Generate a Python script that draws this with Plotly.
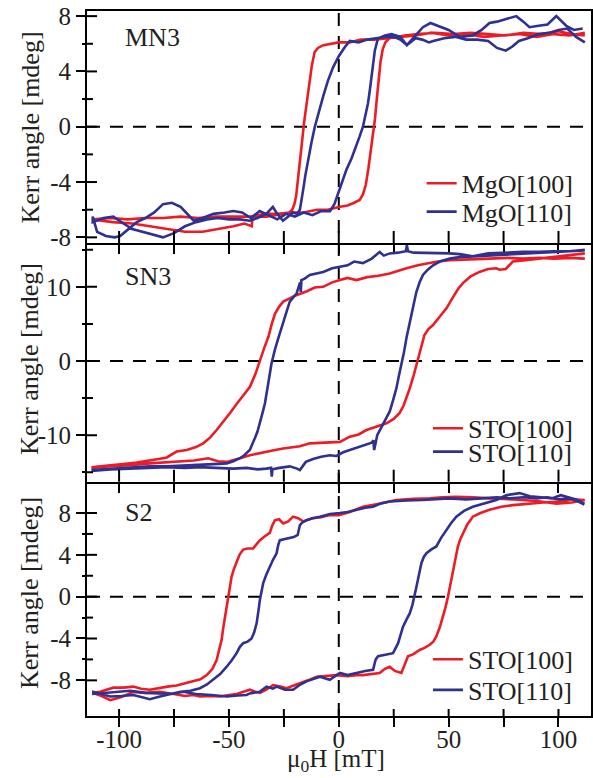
import plotly.graph_objects as go
from plotly.subplots import make_subplots

# ---------------- data ----------------
# Panel 1: MN3  (MgO[100] red, MgO[110] blue)
mn3_100_desc_H = [112, 105, 98, 90, 82, 74, 66, 58, 50, 42, 35, 28, 22, 16, 10, 5, 0, -4, -7, -9.5,
                  -11, -12.3, -13.5, -14.7, -15.8, -16.8, -17.7, -18.6, -19.4, -20.2, -21.2, -22.5, -25, -29,
                  -33, -37, -39.3, -39.6, -43, -48, -55, -62, -70, -78, -86, -94, -103, -112]
mn3_100_desc_K = [6.8, 6.6, 6.7, 6.5, 6.7, 6.6, 6.5, 6.7, 6.6, 6.8, 6.6, 6.5, 6.4, 6.3, 6.3, 6.1, 6.1, 6.0, 5.9, 5.7,
                  5.4, 4.4, 3.1, 1.6, 0.3, -1.2, -2.7, -4.0, -5.0, -5.6, -6.0, -6.2, -6.3, -6.4,
                  -6.5, -6.5, -6.5, -7.2, -7.0, -7.2, -7.4, -7.6, -7.6, -7.4, -7.2, -7.0, -6.9, -6.7]
mn3_100_asc_H = [-112, -104, -96, -88, -80, -72, -64, -56, -48, -40, -34, -28, -22, -16, -10, -5, 0, 4, 7, 9.5,
                 11, 12.3, 13.5, 14.6, 15.6, 16.5, 17.3, 18.1, 19, 20, 21.2, 23, 26, 30, 36, 44, 52, 60, 68, 76,
                 84, 92, 100, 106, 112]
mn3_100_asc_K = [-6.7, -6.6, -6.7, -6.6, -6.6, -6.5, -6.6, -6.5, -6.5, -6.5, -6.3, -6.3, -6.2, -6.2, -6.0, -6.0, -5.8, -5.7, -5.5, -5.3,
                 -4.9, -4.2, -3.0, -1.8, -0.6, 0.6, 2.0, 3.4, 4.7, 5.6, 6.1, 6.4, 6.5, 6.6, 6.7, 6.8, 6.7, 6.8, 6.7, 6.6,
                 6.8, 6.7, 6.9, 6.7, 6.6]
mn3_110_desc_H = [112, 108, 104, 100, 96, 91, 86, 82, 79, 76, 72, 68, 63, 58, 53, 48, 43, 41, 38, 35,
                  31, 28, 25, 21, 17, 13, 9, 5, 2.7, 0, -2.6, -5, -7.1, -9, -10.9, -12.5, -14, -15.2, -16.2, -17,
                  -17.7, -19, -21, -23, -25.4, -28, -30, -33, -37, -40.5, -45, -50, -55, -60, -65, -70, -75, -80, -85, -90,
                  -94, -98, -102.6, -107, -112]
mn3_110_desc_K = [6.1, 6.5, 7.1, 7.0, 6.8, 6.7, 6.4, 6.2, 5.8, 5.5, 5.7, 6.2, 6.3, 6.3, 6.5, 6.4, 6.2, 6.1, 6.3, 6.4,
                  5.9, 6.3, 6.5, 6.5, 6.4, 6.3, 6.1, 6.2, 5.75, 5.1, 4.3, 3.3, 2.2, 1.1, 0.0, -1.2, -2.4, -3.5, -4.55, -5.4,
                  -6.0, -6.3, -6.2, -6.5, -6.8, -6.3, -5.8, -6.3, -6.6, -6.8, -6.7, -6.7, -6.6, -6.7, -6.9, -7.2, -7.7, -8.0, -7.8, -7.6,
                  -7.4, -7.0, -6.5, -6.6, -6.9]
mn3_110_asc_H = [-112, -110, -106, -102, -99.5, -96, -92, -88, -84, -80, -76, -72, -69, -66, -62, -57, -52, -48, -44, -40,
                 -36, -32, -28, -24, -20, -16, -12, -8, -4, -2, -0.3, 1.5, 3.5, 5.8, 8, 9.5, 11, 12.2, 13.3, 14.1,
                 14.9, 15.7, 16.4, 17.2, 17.9, 19.5, 21, 24, 28, 31, 35, 38.3, 41.7, 45, 50, 55, 61, 65, 68.6, 72,
                 76, 80.8, 84, 86.8, 91, 95, 99, 103.5, 107, 111]
mn3_110_asc_K = [-6.5, -7.6, -7.9, -8.0, -7.9, -7.4, -6.9, -6.6, -6.2, -5.6, -5.5, -5.8, -6.3, -6.8, -6.6, -6.3, -6.2, -6.1, -6.2, -6.6,
                 -6.1, -6.4, -6.7, -6.3, -6.5, -6.2, -6.4, -6.1, -6.1, -5.6, -4.8, -4.0, -3.1, -2.3, -1.4, -0.7, 0.0, 0.9, 1.7, 2.6,
                 3.6, 4.6, 5.5, 6.0, 6.4, 6.5, 6.6, 6.7, 6.5, 5.9, 6.6, 7.2, 7.5, 7.3, 7.0, 6.5, 6.6, 7.0, 7.5, 7.6,
                 7.8, 8.0, 7.6, 7.2, 7.3, 7.4, 8.0, 7.3, 7.0, 7.1]

# Panel 2: SN3  (STO[100] red, STO[110] blue)
sn3_100_desc_H = [112, 105, 98, 91.4, 84, 77, 68.6, 60, 50.5, 45, 41.4, 36, 30.8, 27, 23.2, 18, 13, 8, 4, 0.5,
                  -3, -7.1, -11, -14.5, -17.7, -20, -22.3, -25.3, -27.2, -29, -30.5, -32, -34, -35.9, -38, -40.5, -43.5, -46, -49.5, -52.5,
                  -55.6, -58.5, -61.7, -65, -69.2, -73.8, -78.3, -82, -86, -92, -98, -103, -108.6, -112]
sn3_100_desc_K = [13.8, 13.9, 13.8, 13.9, 13.8, 13.9, 13.8, 13.7, 13.6, 13.4, 13.2, 12.9, 12.5, 12.2, 11.8, 11.5, 11.3, 10.9, 11.2, 10.9,
                  10.6, 10.0, 9.9, 9.4, 9.1, 8.8, 8.45, 8.0, 7.3, 6.4, 5.0, 3.3, 1.7, 0.1, -1.8, -3.5, -4.6, -5.6, -7.0, -8.2,
                  -9.3, -10.3, -11.1, -11.6, -12.0, -12.2, -13.0, -13.2, -13.4, -13.7, -13.9, -14.0, -14.2, -14.3]
sn3_100_asc_H = [-112, -105, -98, -93.5, -86, -80, -73.8, -66, -59.4, -55, -51, -48, -45, -40.5, -36, -32.9, -29, -25.3, -20, -17.7,
                 -13.2, -8, -2.6, 0.5, 5, 9, 12.6, 17, 21.7, 25, 27.7, 29.5, 31, 32.3, 34.2, 36, 37.5, 39, 40.8, 42.9,
                 46, 49, 52, 54.5, 56.5, 60, 64, 68, 71.7, 73.2, 76, 79.2, 85, 91.4, 98, 105, 112]
sn3_100_asc_K = [-14.4, -14.2, -14.1, -14.0, -13.8, -13.7, -13.6, -13.4, -13.1, -13.5, -13.6, -13.3, -13.1, -12.7, -12.4, -12.2, -12.0, -11.8, -11.6, -11.5,
                 -11.1, -11.0, -10.9, -10.9, -10.2, -9.9, -9.3, -8.9, -8.4, -7.8, -7.0, -6.0, -4.8, -3.7, -1.8, 0.1, 1.9, 3.5, 4.3, 4.85,
                 6.0, 7.1, 8.6, 9.8, 10.5, 11.4, 12.0, 12.4, 12.5, 12.3, 12.4, 13.4, 13.6, 13.8, 14.0, 14.2, 14.5]
sn3_110_desc_H = [112, 105, 98, 91, 83.8, 76, 68, 61, 55, 50.5, 45, 38.3, 34, 31.5, 31, 30.5, 27, 23.2, 20.5, 18.6,
                  15, 11, 7, 4, 0.5, -3, -7.1, -10.1, -13.2, -15.5, -17, -17.3, -17.6, -19.2, -20.5, -22.3, -23.4, -24.5, -25.7, -26.8,
                  -28, -29.1, -30.6, -32.1, -33.6, -34.8, -35.9, -37, -38.2, -40.5, -43, -45, -48, -51, -57, -63.2, -70, -78.3, -86, -93.5,
                  -102, -112]
sn3_110_desc_K = [15.0, 14.8, 14.8, 14.7, 14.7, 14.6, 14.5, 14.1, 14.4, 14.5, 14.5, 14.5, 14.6, 14.8, 15.6, 14.8, 14.6, 14.5, 14.2, 14.7,
                  13.8, 13.2, 13.4, 12.9, 12.7, 12.5, 12.0, 11.8, 11.6, 11.1, 10.9, 9.3, 10.6, 9.1, 8.6, 8.0, 7.0, 6.0, 4.8, 3.7,
                  2.6, 1.5, -0.3, -3.0, -5.7, -7.1, -8.4, -9.5, -10.4, -12.0, -12.7, -13.1, -13.5, -13.8, -13.9, -14.0, -14.1, -14.2, -14.2, -14.3,
                  -14.5, -14.7]
sn3_110_asc_H = [-112, -104, -96, -86, -78, -70, -63, -56, -48, -42, -37, -33, -30.8, -30.5, -30.2, -27, -22.3, -19, -17.7, -15,
                 -11.7, -8, -4.1, -1, 2, 5, 9, 12.6, 15, 15.8, 16.1, 17.5, 20.1, 21.7, 23.2, 24.7, 26.2, 27.3, 28.5, 29.7,
                 30.8, 32.3, 33.8, 35.3, 36.8, 38.3, 40.5, 42.9, 46, 50.5, 55, 61, 67, 73.2, 80, 88, 96, 104, 112]
sn3_110_asc_K = [-14.8, -14.6, -14.5, -14.4, -14.3, -14.4, -14.3, -14.4, -14.5, -14.4, -14.6, -14.5, -14.4, -15.6, -14.6, -14.4, -14.2, -14.5, -14.7, -13.6,
                 -13.2, -12.9, -12.7, -12.8, -12.3, -12.0, -11.6, -11.3, -11.0, -10.7, -12.0, -10.0, -8.6, -7.8, -6.8, -5.3, -3.7, -2.1, -0.5, 1.2,
                 3.1, 5.2, 7.1, 9.3, 10.6, 11.6, 12.3, 12.9, 13.4, 13.8, 14.0, 14.1, 14.2, 14.3, 14.4, 14.6, 14.7, 14.8, 14.9]

# Panel 3: S2  (STO[100] red, STO[110] blue)
s2_100_desc_H = [112, 106, 99, 92, 84, 76, 68.6, 61, 53.5, 47, 41.4, 34, 26.2, 19, 11, 5, 0, -4.1, -8, -12,
                 -16.2, -18.5, -20.8, -23, -25.3, -27.2, -29.1, -30.3, -31.4, -33.5, -35.9, -37.5, -39, -41.5, -43.5, -45.2, -46.5, -47.8, -48.8, -49.6,
                 -50.3, -51.1, -51.8, -52.6, -53.3, -54.4, -55.6, -57.5, -60.1, -63, -66.2, -70, -73.8, -78, -81.4, -86, -90, -93.5, -98, -102.6,
                 -108.6, -112]
s2_100_desc_K = [9.25, 9.0, 8.9, 9.1, 9.25, 9.3, 9.4, 9.5, 9.55, 9.5, 9.4, 9.35, 9.25, 8.9, 8.6, 8.1, 7.8, 7.8, 7.6, 7.5,
                 7.2, 7.5, 7.65, 7.2, 7.0, 7.4, 7.3, 6.8, 6.1, 5.8, 5.4, 5.0, 4.6, 4.6, 4.5, 4.0, 3.35, 2.6, 1.9, 0.9,
                 0.0, -0.9, -1.9, -3.0, -4.1, -5.1, -6.05, -6.9, -7.5, -7.9, -8.1, -8.3, -8.5, -8.6, -8.75, -8.9, -8.8, -8.6, -8.7, -8.7,
                 -9.1, -9.2]
s2_100_asc_H = [-112, -108, -104, -99, -93.5, -88, -81.4, -75, -70, -66.2, -63.2, -58, -54, -50, -46.5, -42, -40.5, -38, -35.9, -33,
                -29.9, -26.5, -23.8, -20.5, -17.7, -14, -10.1, -6, -1, 4, 8, 11, 15, 18.6, 21, 23.2, 25.5, 28.5, 30, 31.5,
                34, 36.8, 39, 41.4, 43, 44.4, 46, 47.4, 48.6, 49.7, 50.9, 52, 53.1, 54.2, 55.3, 56.5, 58.5, 61, 64.5, 68.6,
                74, 79.2, 86, 93, 100, 106, 112]
s2_100_asc_K = [-9.2, -9.5, -9.9, -9.6, -9.1, -9.2, -9.1, -9.3, -9.5, -9.4, -9.55, -9.5, -9.55, -9.4, -9.3, -9.0, -8.9, -9.1, -9.2, -8.9,
                -8.45, -8.6, -8.75, -8.5, -8.3, -8.0, -7.65, -7.6, -7.5, -7.6, -7.5, -7.5, -7.4, -7.3, -6.9, -6.7, -7.1, -7.3, -6.5, -5.7,
                -5.5, -5.1, -4.9, -4.6, -4.3, -3.8, -2.9, -1.9, -1.0, 0.0, 1.3, 2.55, 3.7, 4.8, 5.5, 6.05, 6.9, 7.65, 8.0, 8.3,
                8.6, 8.75, 8.9, 9.0, 9.1, 9.3, 9.25]
s2_110_desc_H = [111.8, 106, 100, 95, 90, 84, 78, 72, 65, 58, 50, 44, 38.3, 31, 23.2, 19, 15.6, 12, 8, 4,
                 0.5, -4, -8.6, -12, -14.7, -16.5, -17.7, -18.3, -18.7, -20.5, -22.3, -24.5, -26.8, -27.6, -28.3, -30, -31.4, -33, -34.4, -35.2,
                 -35.9, -36.6, -37.4, -38.5, -39.7, -41.5, -43.5, -45, -46.5, -48.8, -51, -54, -57.1, -60, -63.2, -67.5, -72, -76.5, -81.4, -86,
                 -93.5, -99, -104, -108, -111.7]
s2_110_desc_K = [8.8, 9.4, 9.3, 9.5, 9.4, 9.5, 9.4, 9.5, 9.4, 9.3, 9.4, 9.3, 9.25, 9.2, 9.1, 8.9, 8.6, 8.5, 8.3, 8.1,
                 8.0, 7.9, 7.65, 7.5, 7.3, 7.1, 6.85, 6.2, 5.9, 5.7, 5.6, 5.5, 5.4, 4.9, 4.15, 3.5, 2.9, 2.1, 1.3, 0.5,
                 -0.3, -1.4, -2.55, -3.4, -4.0, -4.3, -4.45, -4.8, -5.4, -6.1, -6.7, -7.4, -7.95, -8.4, -8.75, -9.0, -9.1, -9.3, -9.55, -9.8,
                 -9.4, -9.5, -9.55, -9.3, -9.1]
s2_110_asc_H = [-111.7, -106, -101, -95, -88, -81.4, -76, -70.8, -65, -58, -51, -46, -42, -40.5, -36, -32.9, -30, -28.3, -24.5, -20.8,
                -17.5, -14.7, -11.5, -8.6, -4.1, 0.5, 4, 8, 12, 15.6, 16.8, 17.9, 20, 22.5, 24.7, 27, 28.2, 29.2, 30.8, 32.3,
                33.5, 34.5, 35.2, 36, 36.8, 37.6, 38.7, 39.9, 42, 44.4, 46.5, 49, 51, 53.5, 57, 61, 66, 71.7, 76.2, 79,
                82.3, 87, 92, 97, 101, 104, 108, 111.8]
s2_110_asc_K = [-9.3, -9.2, -9.1, -9.0, -9.2, -9.25, -9.3, -9.1, -9.3, -9.4, -9.55, -9.45, -9.4, -9.25, -9.1, -8.6, -8.8, -8.6, -8.9, -8.9,
                -8.4, -8.1, -7.9, -7.65, -7.95, -7.3, -7.5, -7.3, -7.1, -7.0, -6.0, -5.7, -5.6, -5.5, -5.4, -4.45, -3.6, -2.9, -2.2, -1.6,
                -0.8, 0.0, 0.8, 1.6, 2.4, 3.2, 3.8, 4.15, 4.5, 4.8, 5.6, 6.4, 7.0, 7.65, 8.2, 8.6, 8.9, 9.25, 9.7, 9.8,
                9.9, 9.6, 9.5, 9.4, 9.7, 9.5, 9.3, 8.9]

# labels / ticks
panel_labels = ["MN3", "SN3", "S2"]
series_names = [["MgO[100]", "MgO[110]"], ["STO[100]", "STO[110]"], ["STO[100]", "STO[110]"]]
x_tickvals = [-100, -50, 0, 50, 100]
x_ticktext = ["-100", "-50", "0", "50", "100"]
x_minor = [-75, -25, 25, 75]
y_tickvals = [[-8, -4, 0, 4, 8], [-10, 0, 10], [-8, -4, 0, 4, 8]]
y_ticktext = [["-8", "-4", "0", "4", "8"], ["-10", "0", "10"], ["-8", "-4", "0", "4", "8"]]
y_minor = [[-6, -2, 2, 6], [-15, -5, 5, 15], [-6, -2, 2, 6]]
y_ranges = [[-8.41, 8.37], [-16.27, 15.9], [-11.41, 10.99]]
x_range = [-114.6, 114.8]

loops = [
    [(mn3_100_desc_H + mn3_100_asc_H, mn3_100_desc_K + mn3_100_asc_K),
     (mn3_110_desc_H + mn3_110_asc_H, mn3_110_desc_K + mn3_110_asc_K)],
    [(sn3_100_desc_H + sn3_100_asc_H, sn3_100_desc_K + sn3_100_asc_K),
     (sn3_110_desc_H + sn3_110_asc_H, sn3_110_desc_K + sn3_110_asc_K)],
    [(s2_100_desc_H + s2_100_asc_H, s2_100_desc_K + s2_100_asc_K),
     (s2_110_desc_H + s2_110_asc_H, s2_110_desc_K + s2_110_asc_K)],
]

# ---------------- styling ----------------
FONT = "Liberation Serif, Times New Roman, serif"
TXT = "#231f20"
COLORS = ["#ed1c24", "#2e3192"]
W, H = 593, 778
ML, MR, MT, MB = 87, 2, 11, 62
plot_w = W - ML - MR
plot_h = H - MT - MB
domains = [[0.6709, 1.0], [0.3323, 0.6709], [0.0, 0.3323]]
panel_px = [(d[1] - d[0]) * plot_h for d in domains]

fig = make_subplots(rows=3, cols=1, shared_xaxes=True, vertical_spacing=0)

legend_pos = [[(0.664, 0.7556), (0.664, 0.7153)],
              [(0.6765, 0.4081), (0.6765, 0.3749)],
              [(0.6765, 0.0804), (0.6765, 0.0369)]]

legend_layout = {}
k = 0
for p in range(3):
    for s in range(2):
        k += 1
        lname = "legend" if k == 1 else f"legend{k}"
        xs, ys = loops[p][s]
        fig.add_trace(go.Scatter(x=xs, y=ys, mode="lines", name=series_names[p][s],
                                 line=dict(color=COLORS[s], width=2.6), legend=lname),
                      row=p + 1, col=1)
        lx, ly = legend_pos[p][s]
        legend_layout[lname] = dict(x=lx, y=ly, xanchor="left", yanchor="middle",
                                    bgcolor="rgba(0,0,0,0)", borderwidth=0, itemwidth=30,
                                    font=dict(family=FONT, size=26, color=TXT))

shapes = []
for p in range(3):
    sfx = "" if p == 0 else str(p + 1)
    # horizontal dashed zero line
    shapes.append(dict(type="line", xref=f"x{sfx} domain", yref=f"y{sfx}", x0=0, x1=1, y0=0, y1=0,
                       line=dict(color="black", width=2, dash="13px,10px"), layer="below"))
    # inside parts of y ticks
    for v in y_tickvals[p]:
        shapes.append(dict(type="line", xref=f"x{sfx} domain", yref=f"y{sfx}", x0=0, x1=10 / plot_w,
                           y0=v, y1=v, line=dict(color="black", width=2)))
    for v in y_minor[p]:
        shapes.append(dict(type="line", xref=f"x{sfx} domain", yref=f"y{sfx}", x0=0, x1=6 / plot_w,
                           y0=v, y1=v, line=dict(color="black", width=2)))
    # inside parts of x ticks (upwards from bottom of each panel)
    ln = 12 if p < 2 else 7
    for v in x_tickvals + x_minor:
        shapes.append(dict(type="line", xref=f"x{sfx}", yref=f"y{sfx} domain", x0=v, x1=v,
                           y0=0, y1=ln / panel_px[p], line=dict(color="black", width=2)))
# vertical dashed zero line across all panels
shapes.append(dict(type="line", xref="x3", yref="paper", x0=0, x1=0, y0=0, y1=1,
                   line=dict(color="black", width=2, dash="13px,10px"), layer="below"))

annotations = []
label_y = [0.9624, 0.6227, 0.2887]
title_y = [0.8348, 0.5064, 0.1745]
for p in range(3):
    annotations.append(dict(text=panel_labels[p], xref="paper", yref="paper", x=0.0714, y=label_y[p],
                            xanchor="left", yanchor="middle", showarrow=False,
                            font=dict(family=FONT, size=26, color=TXT)))
    annotations.append(dict(text="Kerr angle [mdeg]", xref="paper", yref="paper", x=-0.1131, y=title_y[p],
                            xanchor="center", yanchor="middle", textangle=-90, showarrow=False,
                            font=dict(family=FONT, size=26, color=TXT)))
annotations.append(dict(text="μ<sub>0</sub>H [mT]", xref="paper", yref="paper", x=0.4937, y=-0.0879,
                        xanchor="center", yanchor="bottom", showarrow=False,
                        font=dict(family=FONT, size=25, color=TXT)))

axis_common = dict(showline=True, linewidth=2, linecolor="black", showgrid=False, automargin=False,
                   zeroline=False, ticks="outside", ticklen=9, tickwidth=2, tickcolor="black",
                   tickfont=dict(family=FONT, size=25, color=TXT))

layout_axes = {}
for p in range(3):
    sfx = "" if p == 0 else str(p + 1)
    layout_axes[f"xaxis{sfx}"] = dict(axis_common, range=x_range, tickmode="array",
                                      tickvals=x_tickvals, ticktext=x_ticktext,
                                      mirror=(p == 0),
                                      showticklabels=(p == 2),
                                      ticklabelstandoff=-9,
                                      minor=dict(tickmode="array", tickvals=x_minor, ticks="outside",
                                                 ticklen=9, tickwidth=2, tickcolor="black"))
    layout_axes[f"yaxis{sfx}"] = dict(axis_common, range=y_ranges[p], domain=domains[p], tickmode="array",
                                      tickvals=y_tickvals[p], ticktext=y_ticktext[p], mirror=True,
                                      minor=dict(tickmode="array", tickvals=y_minor[p], ticks="outside",
                                                 ticklen=3, tickwidth=2, tickcolor="black"))

fig.update_layout(template="none", width=W, height=H, margin=dict(l=ML, r=MR, t=MT, b=MB),
                  paper_bgcolor="white", plot_bgcolor="white",
                  shapes=shapes, annotations=annotations, showlegend=True,
                  **layout_axes, **legend_layout)

# remove the default 8px page margin so the figure sits at the window's top-left corner
fig.write_html("out.html", config={"displayModeBar": False},
               post_script="document.body.style.margin='0px';")
